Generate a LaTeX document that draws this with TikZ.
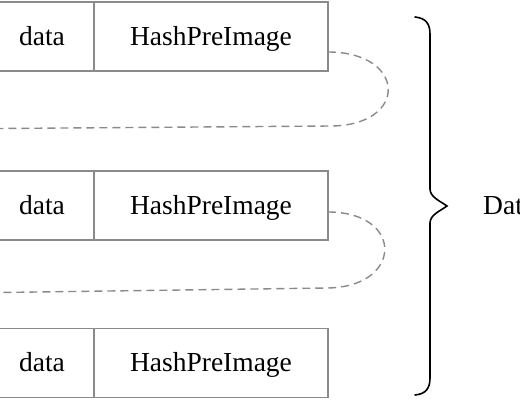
\documentclass[tikz,border=0pt]{standalone}
\usepackage{fontspec}
\setmainfont{Liberation Serif}
\usetikzlibrary{calc}
\definecolor{boxgray}{HTML}{8A8A8A}
\begin{document}
\begin{tikzpicture}[x=1pt,y=-1pt,
  cell/.style={draw=boxgray, line width=1.3pt, minimum height=69pt, inner sep=0pt, outer sep=0pt,
    text height=19pt, text depth=2pt,
    font=\fontsize{27.5}{30}\selectfont, anchor=north west},
  link/.style={draw=boxgray, line width=1.4pt, dash pattern=on 8pt off 5pt},
  bracestyle/.style={draw=black, line width=1.6pt, line cap=round},
]
\useasboundingbox (0,0) rectangle (520,400);
% row 1
\node[cell, minimum width=104pt] (d1) at (-10,2) {data};
\node[cell, minimum width=234pt] (h1) at (94,2) {HashPreImage};
% row 2
\node[cell, minimum width=104pt] (d2) at (-10,171) {data};
\node[cell, minimum width=234pt] (h2) at (94,171) {HashPreImage};
% row 3
\node[cell, minimum width=104pt] (d3) at (-10,328.5) {data};
\node[cell, minimum width=234pt] (h3) at (94,328.5) {HashPreImage};
% dashed links
\coordinate (s1) at ($(h1.south east)+(0,-19)$);
\coordinate (b1) at (330,126);
\coordinate (e1) at (0,128.5);
\draw[link] (s1) .. controls +(79,0) and +(79,0) .. (b1) -- (e1);
\coordinate (s2) at ($(h2.south east)+(0,-28)$);
\coordinate (b2) at (326,288);
\coordinate (e2) at (0,292.5);
\draw[link] (s2) .. controls +(77,0) and +(77,0) .. (b2) -- (e2);
% brace
\draw[bracestyle] (415,17) .. controls (426,18) and (430,24) .. (430,34) -- (430,189)
  .. controls (430,197) and (440,201) .. (447,206)
  .. controls (440,211) and (430,215) .. (430,223) -- (430,378)
  .. controls (430,388) and (426,394) .. (415,395);
\node[anchor=base west, inner sep=0pt, font=\fontsize{27.5}{30}\selectfont] (lbl) at (483,214) {Data};
\end{tikzpicture}
\end{document}
